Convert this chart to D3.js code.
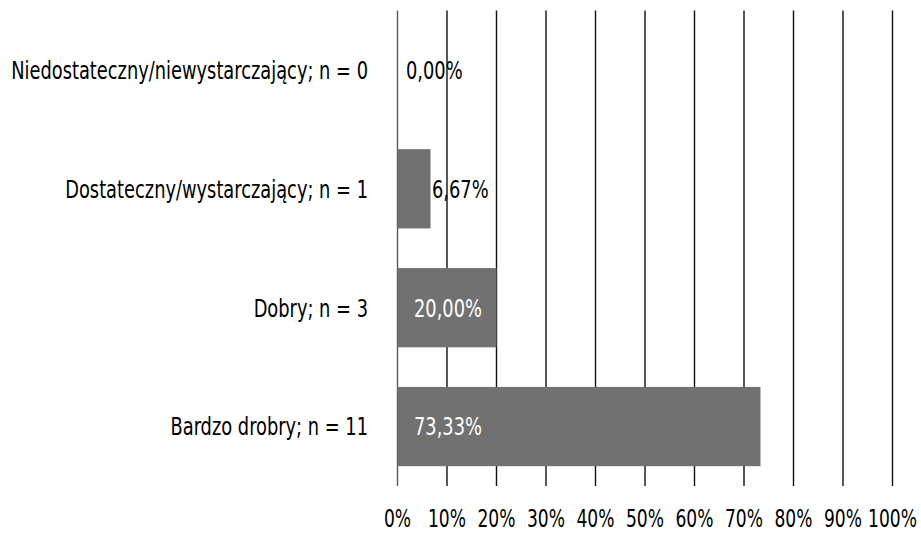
<!DOCTYPE html>
<html>
<head>
<meta charset="utf-8">
<script src="https://cdn.jsdelivr.net/npm/d3@7"></script>
<style>
  html, body { margin: 0; padding: 0; background: #fff; }
  svg text { font-family: "Liberation Sans Narrow", "DejaVu Sans Condensed", "Roboto", sans-serif; }
</style>
</head>
<body>
<svg id="chart" width="921" height="533"></svg>
<script>
const categories = [
  "Niedostateczny/niewystarczający; n = 0",
  "Dostateczny/wystarczający; n = 1",
  "Dobry; n = 3",
  "Bardzo drobry; n = 11"
];
const values = [0.00, 6.67, 20.00, 73.33];
const valueLabels = ["0,00%", "6,67%", "20,00%", "73,33%"];
const tickValues = [0, 10, 20, 30, 40, 50, 60, 70, 80, 90, 100];
const tickLabels = ["0%", "10%", "20%", "30%", "40%", "50%", "60%", "70%", "80%", "90%", "100%"];

const svg = d3.select("#chart");
const plot = { left: 397.5, right: 892.5, top: 10.5, bottom: 486 };
const fontSize = 25;
const barColor = "#717171";

const x = d3.scaleLinear().domain([0, 100]).range([plot.left, plot.right]);
const y = d3.scaleBand().domain(categories).range([plot.top, plot.bottom])
  .paddingInner(1 / 3).paddingOuter(1 / 6);

// gridlines
svg.append("g").selectAll("line").data(tickValues).join("line")
  .attr("x1", d => x(d)).attr("x2", d => x(d))
  .attr("y1", plot.top).attr("y2", plot.bottom)
  .attr("stroke", (d, i) => i === 0 ? "#595959" : "#111")
  .attr("stroke-width", 1.4);

// bars
svg.append("g").selectAll("rect").data(values).join("rect")
  .attr("x", x(0))
  .attr("y", (d, i) => y(categories[i]))
  .attr("width", d => x(d) - x(0))
  .attr("height", y.bandwidth())
  .attr("fill", barColor);

let sx = 1;
function place(sel, tx, ty) {
  sel.attr("x", 0).attr("y", 0)
     .attr("transform", (d, i) => `translate(${tx(d, i)},${ty(d, i)}) scale(${sx},1)`);
}

// category labels
const catText = svg.append("g").selectAll("text").data(categories).join("text")
  .attr("font-size", fontSize)
  .attr("fill", "#000")
  .attr("text-anchor", "end")
  .attr("dominant-baseline", "central")
  .text(d => d);

const w0 = catText.nodes()[0].getComputedTextLength();
sx = 357 / w0;

place(catText, () => 368, d => y(d) + y.bandwidth() / 2);

// x tick labels
const tickText = svg.append("g").selectAll("text").data(tickValues).join("text")
  .attr("font-size", 24)
  .attr("fill", "#000")
  .attr("text-anchor", "middle")
  .text((d, i) => tickLabels[i]);
place(tickText, d => x(d), () => 527);

// value labels
const valText = svg.append("g").selectAll("text").data(values).join("text")
  .attr("font-size", fontSize)
  .attr("dominant-baseline", "central")
  .text((d, i) => valueLabels[i]);

const info = valText.nodes().map((n, i) => {
  const lw = n.getComputedTextLength() * sx;
  const bw = x(values[i]) - x(0);
  const fits = bw > lw + 16;
  return { fits, px: fits ? x(0) + 16.5 : Math.max(x(0) + 8.5, x(values[i]) + 1.5) };
});
valText.attr("fill", (d, i) => info[i].fits ? "#fff" : "#000");
place(valText, (d, i) => info[i].px, (d, i) => y(categories[i]) + y.bandwidth() / 2);
</script>
</body>
</html>
